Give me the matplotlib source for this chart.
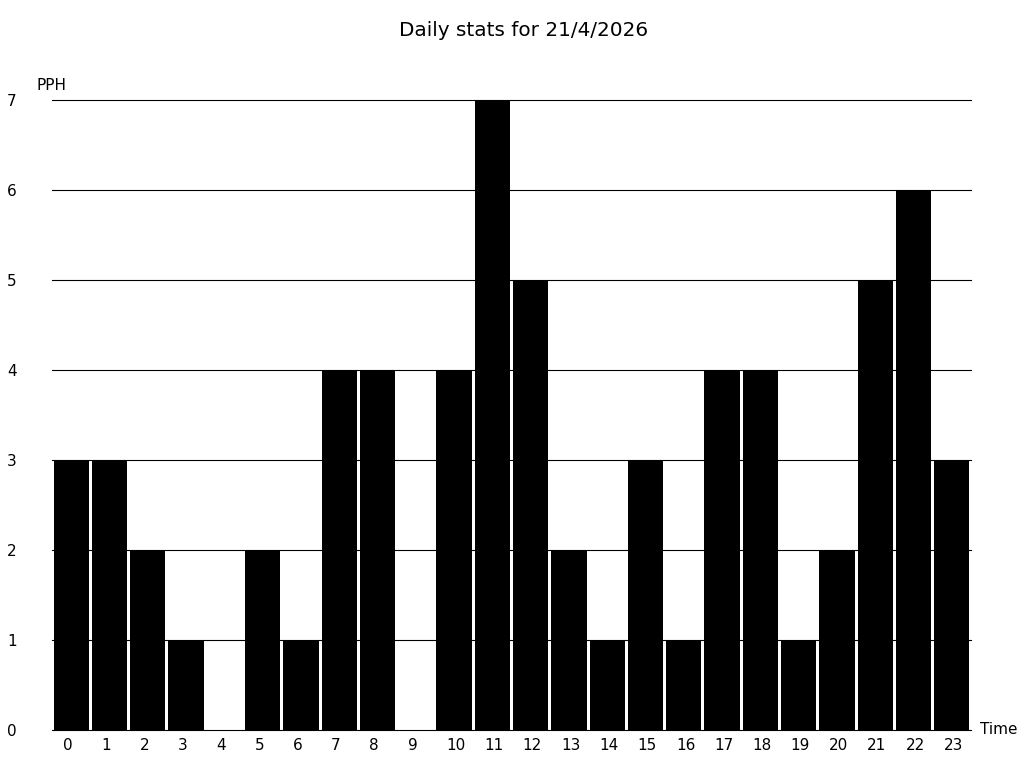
import matplotlib
matplotlib.use('Agg')
import matplotlib.pyplot as plt
from matplotlib.transforms import ScaledTranslation

# Data
hours = list(range(24))
pph = [3, 3, 2, 1, 0, 2, 1, 4, 4, 0, 4, 7, 5, 2, 1, 3, 1, 4, 4, 1, 2, 5, 6, 3]
title = 'Daily stats for 21/4/2026'

fig = plt.figure(figsize=(10.24, 7.68), dpi=100)
ax = fig.add_axes([52 / 1024, 38 / 768, 919 / 1024, 630 / 768])

ax.bar(hours, pph, width=0.92, color='black', zorder=2)

ax.set_xlim(-0.5, 23.5)
ax.set_ylim(0, 7)
ax.set_yticks(range(8))
ax.set_xticks(hours)
ax.yaxis.grid(True, color='black', linewidth=0.8, zorder=1)
ax.set_axisbelow(True)
for line in ax.get_ygridlines():
    line.set_clip_on(False)
for s in ax.spines.values():
    s.set_visible(False)

ax.tick_params(axis='y', length=0, pad=32.4, labelsize=11)
ax.tick_params(axis='x', length=0, pad=5.5, labelsize=11)
for lab in ax.get_yticklabels():
    lab.set_ha('left')
# labels sit left-aligned a little before each bar centre
shift = ScaledTranslation(-8 / 100, 0, fig.dpi_scale_trans)
for lab in ax.get_xticklabels():
    lab.set_ha('left')
    lab.set_transform(lab.get_transform() + shift)

fig.text(524 / 1024, 1 - 31 / 768, title, ha='center', va='center', fontsize=14.4)
fig.text(37 / 1024, 1 - 85 / 768, 'PPH', ha='left', va='center', fontsize=11)
fig.text(980 / 1024, 1 - 730 / 768, 'Time', ha='left', va='center', fontsize=11)

fig.savefig('out.png', dpi=100)
